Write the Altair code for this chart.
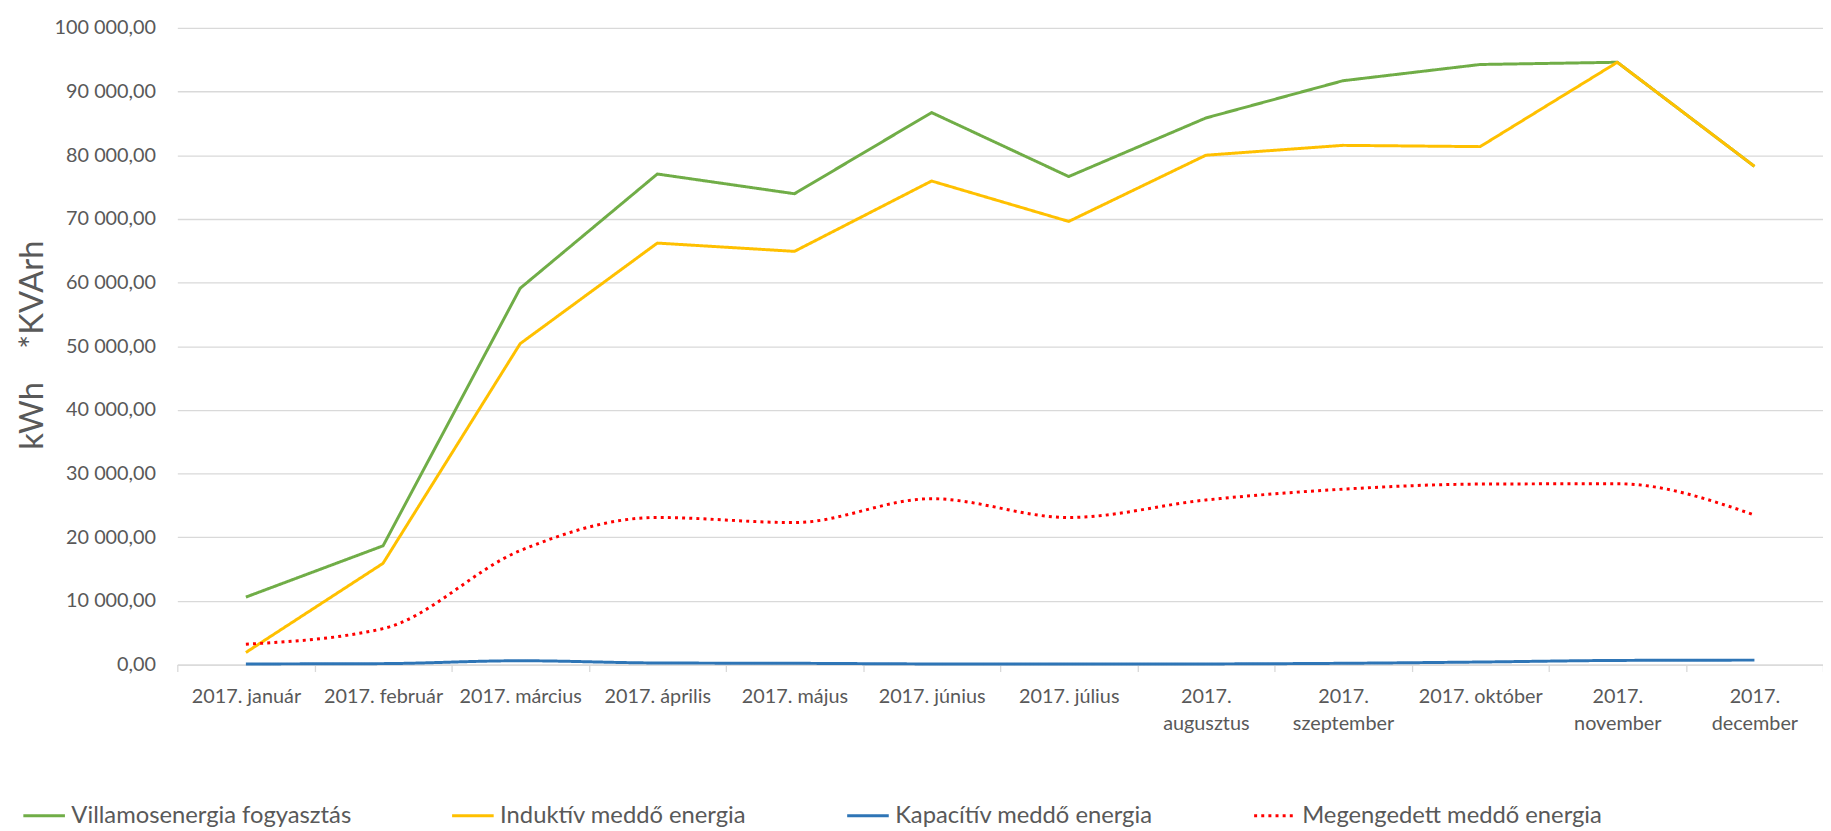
import altair as alt
import pandas as pd

# ---- data ----
months = ["2017. január", "2017. február", "2017. március", "2017. április",
          "2017. május", "2017. június", "2017. július", "2017. augusztus",
          "2017. szeptember", "2017. október", "2017. november", "2017. december"]
wrapped = ["2017. augusztus", "2017. szeptember", "2017. november", "2017. december"]

series_names = ["Villamosenergia fogyasztás", "Induktív meddő energia",
                "Kapacítív meddő energia", "Megengedett meddő energia"]
series_colors = ["#70AD47", "#FFC000", "#2E75B6", "#FF0000"]
series_dash = [[1, 0], [1, 0], [1, 0], [3, 4.2]]

villamos = [10600, 18650, 59100, 77050, 73950, 86700, 76650, 85850, 91700, 94250, 94600, 78250]
induktiv = [1900, 15900, 50400, 66200, 64900, 75950, 69600, 80000, 81550, 81350, 94600, 78250]
kapacitiv = [100, 150, 600, 250, 200, 100, 80, 100, 200, 400, 650, 700]
megengedett = [3200, 5650, 17900, 23100, 22300, 26050, 23100, 25850, 27550, 28350, 28400, 23500]

y_ticks = list(range(0, 100001, 10000))

values = [villamos, induktiv, kapacitiv, megengedett]
smooth = [False, False, True, True]

FONT = "Lato"
TXT = "#595959"

color_scale = alt.Scale(domain=series_names, range=series_colors)
dash_scale = alt.Scale(domain=series_names, range=series_dash)

legend = alt.Legend(
    title=None, orient="none", direction="horizontal",
    legendX=-157, legendY=773, padding=0,
    symbolType="stroke", symbolSize=1764, symbolStrokeWidth=3,
    labelFont=FONT, labelFontSize=24, labelColor=TXT, labelOffset=5,
    labelLimit=500, columnPadding=95,
)

NB = "\u00a0"

layers = []
for name, vals, sm in zip(series_names, values, smooth):
    df = pd.DataFrame({"month": months, "value": vals, "series": name})
    mark = alt.Chart(df).mark_line(
        strokeWidth=3,
        strokeCap="butt",
        strokeJoin="round",
        interpolate="monotone" if sm else "linear",
    )
    layers.append(mark.encode(
        x=alt.X("month:N", sort=months, bandPosition=0.5,
                scale=alt.Scale(type="band", domain=months, paddingInner=0, paddingOuter=0),
                axis=alt.Axis(
                    title=None, labelAngle=0, domain=True, domainColor="#D9D9D9",
                    domainWidth=1.3, ticks=True, tickColor="#D9D9D9", tickSize=7,
                    tickWidth=1.3, tickBand="extent", grid=False,
                    labelFont=FONT, labelFontSize=20, labelColor=TXT,
                    labelPadding=15, labelBaseline="top", labelAlign="center",
                    labelLineHeight=28, labelOverlap=False, labelLimit=300,
                    labelExpr="indexof(" + str(wrapped) + ", datum.label) >= 0 ? split(datum.label, ' ') : datum.label",
                )),
        y=alt.Y("value:Q",
                scale=alt.Scale(domain=[0, 100000], nice=False, zero=True),
                axis=alt.Axis(
                    title="kWh" + NB * 4 + "*KVArh", values=y_ticks,
                    labelExpr="replace(replace(format(datum.value, ',.2f'), ',', ' '), '.', ',')",
                    domain=False, ticks=False, grid=True, gridColor="#D9D9D9",
                    gridWidth=1.3, labelFont=FONT, labelFontSize=20,
                    labelColor=TXT, labelPadding=22,
                    titleFont=FONT, titleFontSize=33, titleFontWeight="normal",
                    titleColor=TXT, titleAngle=270, titleX=-146, titleY=320,
                    titleAlign="center", titleBaseline="middle",
                )),
        color=alt.Color("series:N", scale=color_scale, legend=legend),
        strokeDash=alt.StrokeDash("series:N", scale=dash_scale, legend=legend),
    ))

chart = alt.layer(*layers).properties(
    width=1662, height=643,
    autosize=alt.AutoSizeParams(type="none"),
    padding={"left": 171, "top": 16, "right": 0, "bottom": 164},
    background="white",
).configure_view(stroke=None)

chart.save("out.html", embed_options={"renderer": "svg", "actions": False})
